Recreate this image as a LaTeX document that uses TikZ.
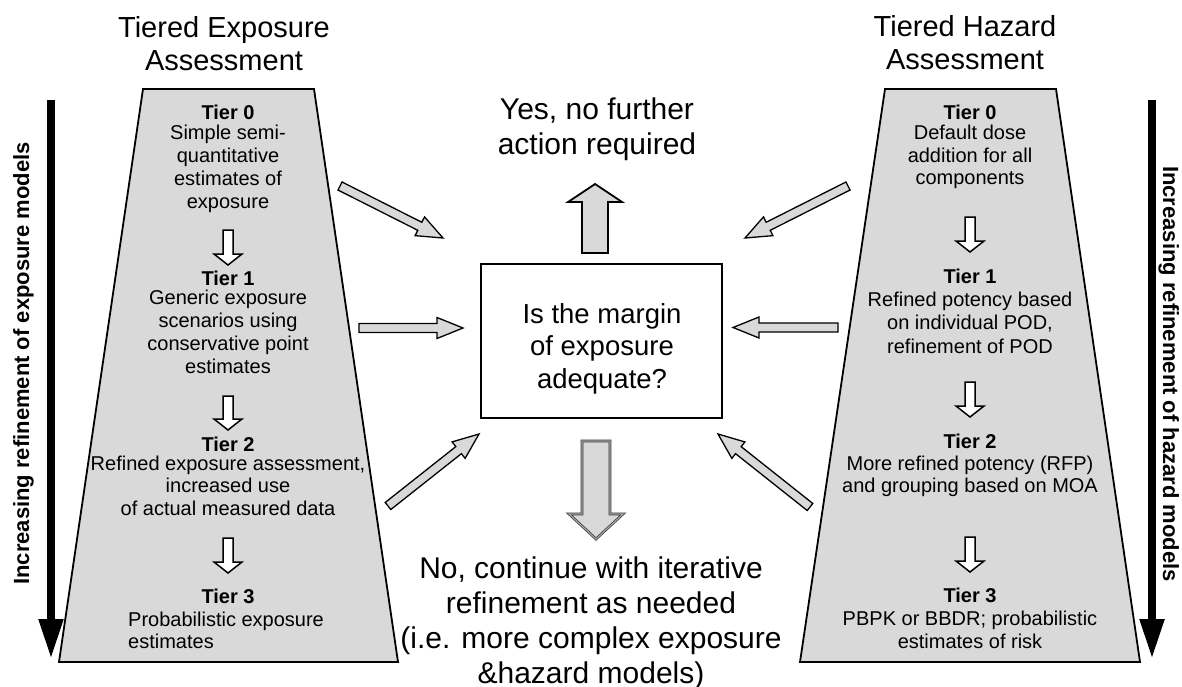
\documentclass[tikz,border=0pt]{standalone}
\usepackage{fontspec}
\setmainfont{Liberation Sans}
\usetikzlibrary{calc,arrows.meta}
\definecolor{lg}{HTML}{D9D9D9}
% #1 style, #2 tail, #3 tip, #4 half shaft, #5 half head, #6 head length
\newcommand\blockarr[6]{%
  \coordinate (hb) at ($(#3)!#6!(#2)$);
  \draw[#1] ($(#2)!#4!90:(#3)$) -- ($(hb)!#4!90:(#3)$) -- ($(hb)!#5!90:(#3)$) -- (#3)
    -- ($(hb)!#5!-90:(#3)$) -- ($(hb)!#4!-90:(#3)$) -- ($(#2)!#4!-90:(#3)$) -- cycle;}
\begin{document}
\begin{tikzpicture}[x=1pt,y=-1pt,
  trap/.style={draw=black, line width=1.8pt, fill=lg, line join=miter},
  title/.style={font=\fontsize{29}{33}\selectfont, align=center, anchor=base, inner sep=0},
  tierh/.style={font=\bfseries\fontsize{20}{23}\selectfont, anchor=base, inner sep=0},
  desc/.style={font=\fontsize{20}{22.7}\selectfont, align=center, anchor=base, inner sep=0},
  big/.style={font=\fontsize{30}{35}\selectfont, align=center, anchor=base, inner sep=0},
  boxtxt/.style={font=\fontsize{27.5}{32.5}\selectfont, align=center, anchor=base, inner sep=0},
  vtext/.style={font=\bfseries\fontsize{22}{26}\selectfont, anchor=base, inner sep=0},
  tierarr/.style={draw=black, fill=white, line width=1.5pt, line join=miter},
  grayarr/.style={draw=black, fill=lg, line width=1.3pt, line join=miter},
  dblarr/.style={draw=black!80, double=black!35, double distance=1.2pt, line width=0.7pt, fill=lg, line join=miter},
  bigarr/.style={line width=8pt, -{Triangle[width=23pt,length=40pt]}}
]
\useasboundingbox (0,0) rectangle (1182,687);

% trapezoids
\draw[trap] (143,89) -- (314,89) -- (398,662) -- (59,662) -- cycle;
\draw[trap] (885,89) -- (1056,89) -- (1140,662) -- (800,662) -- cycle;

% titles (anchor at baseline of last line)
\node[title] (tl) at (224,71) {Tiered Exposure\\Assessment};
\node[title] (tr) at (965,70) {Tiered Hazard\\Assessment};

% left tiers
\node[tierh] (l0) at (228,120) {Tier 0};
\node[desc] (l0d) at (228,208) {Simple semi-\\quantitative\\estimates of\\exposure};
\node[tierh] (l1) at (228,285) {Tier 1};
\node[desc] (l1d) at (228,373) {Generic exposure\\scenarios using\\conservative point\\estimates};
\node[tierh] (l2) at (228,451) {Tier 2};
\node[desc, font=\fontsize{20}{22.5}\selectfont] (l2d) at (228,515) {Refined exposure assessment,\\increased use\\of actual measured data};
\node[tierh] (l3) at (228,603) {Tier 3};
\node[desc, align=left, anchor=base west, font=\fontsize{20}{21.5}\selectfont] (l3d) at (128,648) {Probabilistic exposure\\estimates};

% right tiers
\node[tierh] (r0) at (970,120) {Tier 0};
\node[desc] (r0d) at (970,185) {Default dose\\addition for all\\components};
\node[tierh] (r1) at (970,283) {Tier 1};
\node[desc, font=\fontsize{20}{23.5}\selectfont] (r1d) at (970,353) {Refined potency based\\on individual POD,\\refinement of POD};
\node[tierh] (r2) at (970,448) {Tier 2};
\node[desc, font=\fontsize{20}{22}\selectfont] (r2d) at (970,492) {More refined potency (RFP)\\and grouping based on MOA};
\node[tierh] (r3) at (970,602) {Tier 3};
\node[desc, font=\fontsize{20}{23}\selectfont] (r3d) at (970,648) {PBPK or BBDR; probabilistic\\estimates of risk};

% small tier arrows
\coordinate (la0s) at (228,230); \coordinate (la0e) at (228,265);
\coordinate (la1s) at (228,396); \coordinate (la1e) at (228,430);
\coordinate (la2s) at (228,538); \coordinate (la2e) at (228,573);
\coordinate (ra0s) at (970,217); \coordinate (ra0e) at (970,252);
\coordinate (ra1s) at (970,382); \coordinate (ra1e) at (970,417);
\coordinate (ra2s) at (970,537); \coordinate (ra2e) at (970,572);
\foreach \a in {la0,la1,la2,ra0,ra1,ra2}{\blockarr{tierarr}{\a s}{\a e}{5pt}{14pt}{11pt}}

% big side arrows
\coordinate (lbs) at (51,100); \coordinate (lbe) at (51,659);
\coordinate (rbs) at (1152,100); \coordinate (rbe) at (1152,659);
\draw[bigarr] (lbs) -- (lbe);
\draw[bigarr] (rbs) -- (rbe);
\node[vtext, rotate=90] (lv) at (29,363.5) {Increasing refinement of exposure models};
\node[vtext, rotate=-90] (rv) at (1163,374) {Increasing refinement of hazard models};

% centre
\node[big] (yes) at (597,155) {Yes, no further\\action required};
\node[draw=black, line width=1.8pt, minimum width=241pt, minimum height=154pt, inner sep=0] (box) at (601.5,341) {};
\node[boxtxt] (boxt) at (602,388) {Is the margin\\of exposure\\adequate?};
\node[big] (no) at (591,683) {No, continue with iterative\\refinement as needed\\(i.e. more complex exposure\\\&hazard models)};

% up / down arrows
\coordinate (us) at (595,253); \coordinate (ue) at (595,184);
\coordinate (ds) at (596,441); \coordinate (de) at (596,539);
\blockarr{grayarr, line width=1.8pt}{us}{ue}{13pt}{27pt}{18pt}
\blockarr{dblarr}{ds}{de}{14pt}{27pt}{25pt}

% gray diagonal arrows
\coordinate (g1s) at (340,186); \coordinate (g1e) at (443,238);
\coordinate (g2s) at (359,328); \coordinate (g2e) at (463,328);
\coordinate (g3s) at (388,506); \coordinate (g3e) at (479,434);
\coordinate (g4s) at (848,186); \coordinate (g4e) at (745,238);
\coordinate (g5s) at (838,327.5); \coordinate (g5e) at (733,327.5);
\coordinate (g6s) at (810,507); \coordinate (g6e) at (718,434);
\foreach \g in {g1,g2,g3,g4,g5,g6}{\blockarr{grayarr}{\g s}{\g e}{4.5pt}{10.5pt}{26pt}}
\end{tikzpicture}
\end{document}
